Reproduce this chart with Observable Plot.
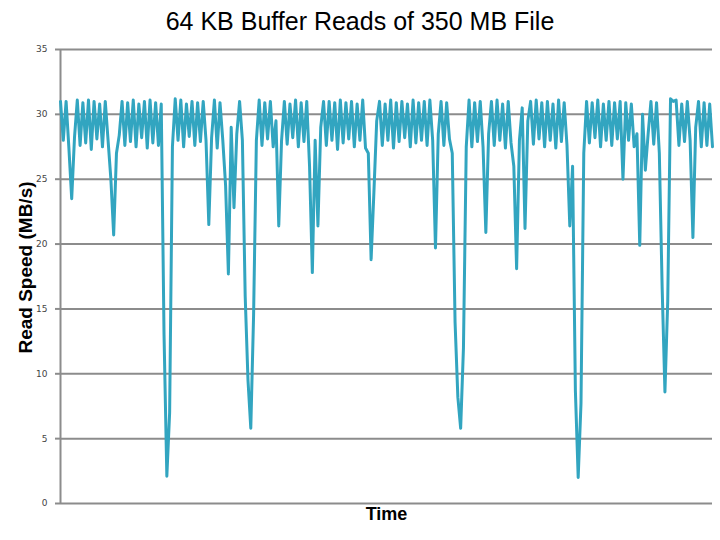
<!DOCTYPE html>
<html>
<head>
<meta charset="utf-8">
<script src="https://cdn.jsdelivr.net/npm/d3@7"></script>
<script src="https://cdn.jsdelivr.net/npm/@observablehq/plot@0.6"></script>
<style>
  body { margin: 0; background: #fff; width: 720px; height: 540px; overflow: hidden; }
  #title { margin-top: 7px; height: 33px; line-height: 25px; font: 25px "Liberation Sans", Arial, sans-serif; text-align: center; color: #000; }
</style>
</head>
<body>
<div id="title"></div>
<div id="chart"></div>
<script>
const titleText = "64 KB Buffer Reads of 350 MB File";
const yLabel = "Read Speed (MB/s)";
const xLabel = "Time";
const yTicks = [0, 5, 10, 15, 20, 25, 30, 35];
// read speed samples (MB/s), in time order
const speeds = [
  31.0, 28.0, 31.0, 27.4, 23.5, 28.2, 31.1, 27.6, 30.9, 27.8,
  31.1, 27.3, 31.0, 28.1, 30.8, 27.5, 31.0, 28.0, 25.0, 20.7,
  27.0, 28.4, 31.0, 27.6, 30.9, 27.9, 31.1, 27.5, 30.8, 28.2,
  31.0, 27.4, 31.1, 27.8, 30.9, 27.6, 30.8, 13.0, 2.1, 7.0,
  27.5, 31.2, 28.0, 31.1, 27.5, 30.8, 28.3, 31.0, 27.6, 30.9,
  27.9, 31.0, 28.0, 21.5, 28.2, 31.1, 27.4, 30.9, 28.0, 24.5,
  17.7, 29.0, 22.8, 28.5, 31.0, 28.0, 16.0, 9.5, 5.8, 14.5,
  28.0, 31.1, 27.6, 30.9, 28.1, 31.0, 27.5, 29.5, 21.4, 28.0,
  31.0, 27.7, 30.8, 28.2, 31.1, 27.5, 30.9, 27.9, 31.0, 26.0,
  17.8, 28.0, 21.4, 29.0, 31.0, 27.6, 31.0, 28.0, 30.9, 27.3,
  31.1, 27.8, 30.9, 28.1, 31.0, 27.5, 30.8, 28.0, 31.1, 27.4,
  27.0, 18.8, 24.0, 29.5, 31.0, 27.6, 30.8, 28.0, 31.1, 27.4,
  30.9, 27.9, 31.0, 28.2, 30.8, 27.5, 31.1, 27.8, 30.9, 28.0,
  31.0, 27.6, 31.1, 28.0, 19.7, 28.5, 31.0, 27.6, 30.9, 28.1,
  27.0, 14.0, 8.2, 5.8, 12.0, 27.5, 31.1, 27.5, 30.9, 27.9,
  31.0, 27.5, 20.9, 28.5, 31.0, 27.6, 31.1, 28.0, 30.8, 27.4,
  31.0, 27.8, 26.0, 18.1, 28.0, 30.5, 21.2, 29.5, 31.0, 27.7,
  31.1, 28.1, 30.9, 27.5, 31.0, 28.0, 30.8, 27.4, 31.1, 27.9,
  30.9, 27.6, 21.4, 26.0, 8.7, 2.0, 7.7, 27.0, 31.0, 27.8,
  30.9, 28.2, 31.1, 27.5, 30.8, 28.0, 31.0, 27.6, 30.9, 28.1,
  31.0, 25.0, 30.9, 28.0, 30.8, 27.5, 28.5, 19.9, 30.0, 25.7,
  28.5, 31.0, 27.7, 30.9, 27.0, 16.7, 8.6, 15.6, 31.2, 31.0,
  31.1, 27.6, 30.8, 27.9, 31.0, 28.0, 20.5, 29.0, 31.0, 27.5,
  30.9, 27.6, 30.8, 27.5
];
const data = speeds.map((v, i) => ({t: i, v}));
document.getElementById("title").textContent = titleText;

const chart = Plot.plot({
  width: 720,
  height: 500,
  marginTop: 9,
  marginBottom: 37,
  marginLeft: 60,
  marginRight: 8,
  style: {background: "#fff", overflow: "visible"},
  x: {domain: [0, speeds.length - 1]},
  y: {domain: [0, 35]},
  marks: [
    Plot.ruleY(yTicks, {stroke: "#8c8c8c", strokeWidth: 2}),
    Plot.ruleX([0], {stroke: "#8c8c8c", strokeWidth: 2}),
    Plot.axisX({ticks: [], label: null, tickSize: 0}),
    Plot.axisY({ticks: yTicks, tickSize: 5, tickPadding: 8, stroke: "#8c8c8c", strokeWidth: 2, fill: "#444", fontSize: 9, fontFamily: "DejaVu Sans", label: null}),
    Plot.line(data, {x: "t", y: "v", stroke: "#32a5c0", strokeWidth: 3, strokeLinejoin: "round"}),
    Plot.text([xLabel], {frameAnchor: "bottom", lineAnchor: "top", dy: 4, text: d => d, fontSize: 18, fontWeight: "bold", fontFamily: "Liberation Sans, Arial", fill: "#000"}),
    Plot.text([yLabel], {frameAnchor: "left", textAnchor: "middle", rotate: -90, dx: -35, dy: -9, text: d => d, fontSize: 19, fontWeight: "bold", fontFamily: "Liberation Sans, Arial", fill: "#000"})
  ]
});
document.getElementById("chart").appendChild(chart);
</script>
</body>
</html>
